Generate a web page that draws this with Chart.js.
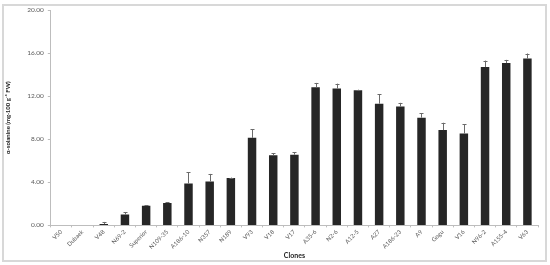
<!DOCTYPE html>
<html>
<head>
<meta charset="utf-8">
<script src="https://cdn.jsdelivr.net/npm/chart.js@4"></script>
<style>
  body { margin: 0; background: #fff; }
  #frame { position: absolute; left: 2px; top: 4px; width: 545px; height: 258px; box-sizing: border-box; border: 2px solid #d8d8d8; }
  #wrap { position: absolute; left: 0; top: 0; width: 550px; height: 265px; }
</style>
</head>
<body>
<div id="frame"></div>
<div id="wrap"><canvas id="myChart"></canvas></div>
<script>
  // clones and alpha-solanine content (mg per 100 g FW), error = upper SD
  var clones = ["V50", "Dubaek", "V48", "N69-2", "Superior", "N109-35", "A186-10", "N357", "N189", "V93", "V18", "V17",
    "A35-6", "N2-6", "A12-5", "A27", "A186-23", "A9", "Gogu", "V16", "N96-2", "A155-4", "V63"];
  var solanine = [0, 0, 0.12, 1.0, 1.82, 2.08, 3.9, 4.08, 4.39, 8.13, 6.51, 6.57,
    12.83, 12.71, 12.55, 11.3, 11.03, 10.0, 8.85, 8.53, 14.7, 15.07, 15.49];
  var errors = [0, 0, 0.2, 0.2, 0.06, 0.05, 1.05, 0.7, 0.05, 0.78, 0.2, 0.2,
    0.4, 0.45, 0.05, 0.9, 0.35, 0.4, 0.68, 0.84, 0.6, 0.3, 0.47];
  var yTicks = [0, 4, 8, 12, 16, 20];

  // error bars drawn on top of the bars
  var errorBars = {
    id: 'errorBars',
    afterDatasetsDraw: function (chart) {
      var ctx = chart.ctx;
      var y = chart.scales.y;
      var bars = chart.getDatasetMeta(0).data;
      ctx.save();
      ctx.strokeStyle = '#6b6b6b';
      ctx.lineWidth = 1;
      bars.forEach(function (bar, i) {
        if (!errors[i]) return;
        var top = y.getPixelForValue(solanine[i] + errors[i]);
        var base = y.getPixelForValue(solanine[i]);
        var x = Math.round(bar.x) + 0.5;
        ctx.beginPath();
        ctx.moveTo(x, base);
        ctx.lineTo(x, top);
        ctx.moveTo(x - 2, Math.round(top) + 0.5);
        ctx.lineTo(x + 2, Math.round(top) + 0.5);
        ctx.stroke();
      });
      ctx.restore();
    }
  };

  var ctx = document.getElementById('myChart').getContext('2d');
  var myChart = new Chart(ctx, {
    type: 'bar',
    data: {
      labels: clones,
      datasets: [{
        data: solanine,
        backgroundColor: '#262626',
        barPercentage: 0.4,
        categoryPercentage: 1.0
      }]
    },
    options: {
      responsive: true,
      maintainAspectRatio: false,
      animation: false,
      layout: { padding: { left: 4, top: 10, right: 12, bottom: 5 } },
      plugins: { legend: { display: false }, tooltip: { enabled: false } },
      scales: {
        x: {
          grid: { display: true, drawOnChartArea: false, tickLength: 2, color: '#bdbdbd', offset: true },
          border: { color: '#bdbdbd' },
          ticks: {
            minRotation: 45, maxRotation: 45, padding: 1,
            color: '#595959', font: { family: 'Lato', size: 6 }
          },
          title: {
            display: true, text: 'Clones', color: '#222',
            font: { family: 'Lato', size: 7, weight: 'bold' }, padding: { top: 0, bottom: 0 }
          }
        },
        y: {
          min: 0, max: 20,
          afterBuildTicks: function (scale) {
            scale.ticks = yTicks.map(function (v) { return { value: v }; });
          },
          grid: { display: true, drawOnChartArea: false, tickLength: 3, color: '#bdbdbd' },
          border: { color: '#bdbdbd' },
          ticks: {
            color: '#595959', padding: 4, font: { family: 'Lato', size: 6.5 },
            callback: function (v) { return v.toFixed(2); }
          },
          title: {
            display: true, text: 'α-solanine (mg·100 g⁻¹ FW)', color: '#222',
            font: { family: 'Lato', size: 6, weight: 'bold' }, padding: { top: 0, bottom: 12 }
          }
        }
      }
    },
    plugins: [errorBars]
  });
</script>
</body>
</html>
